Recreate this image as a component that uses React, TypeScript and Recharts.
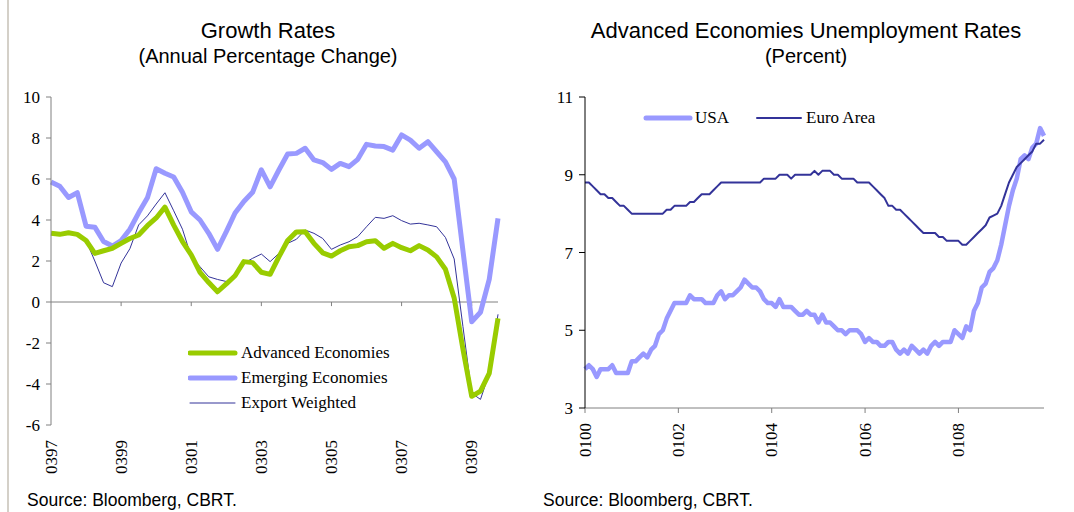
import React from 'react';
import { LineChart, Line, XAxis, YAxis, ReferenceLine, Legend } from 'recharts';

const SERIF = '"Liberation Serif", "Times New Roman", serif';
const SANS = '"Liberation Sans", Arial, sans-serif';

// ---------- Left chart: Growth Rates (quarterly, mmyy) ----------
const growthCategories = [
  '0397', '0697', '0997', '1297', '0398', '0698', '0998', '1298',
  '0399', '0699', '0999', '1299', '0300', '0600', '0900', '1200',
  '0301', '0601', '0901', '1201', '0302', '0602', '0902', '1202',
  '0303', '0603', '0903', '1203', '0304', '0604', '0904', '1204',
  '0305', '0605', '0905', '1205', '0306', '0606', '0906', '1206',
  '0307', '0607', '0907', '1207', '0308', '0608', '0908', '1208',
  '0309', '0609', '0909', '1209',
];
const advancedEconomies = [
  3.35, 3.3, 3.38, 3.3, 3.0, 2.37, 2.5, 2.62,
  2.86, 3.1, 3.27, 3.72, 4.1, 4.63, 3.75, 2.95,
  2.3, 1.45, 0.95, 0.5, 0.88, 1.28, 1.97, 1.92,
  1.45, 1.35, 2.2, 3.0, 3.42, 3.43, 2.86, 2.4,
  2.24, 2.5, 2.7, 2.75, 2.94, 2.99, 2.62, 2.86,
  2.65, 2.5, 2.75, 2.54, 2.2, 1.6, 0.2, -2.3,
  -4.6, -4.35, -3.48, -0.8,
];
const emergingEconomies = [
  5.85, 5.65, 5.1, 5.33, 3.7, 3.65, 2.95, 2.73,
  3.0, 3.55, 4.35, 5.08, 6.5, 6.28, 6.1, 5.35,
  4.4, 4.0, 3.35, 2.57, 3.43, 4.34, 4.9, 5.35,
  6.45, 5.62, 6.44, 7.22, 7.25, 7.5, 6.93, 6.8,
  6.47, 6.76, 6.6, 6.96, 7.69, 7.61, 7.58, 7.41,
  8.15, 7.9, 7.5, 7.82, 7.33, 6.84, 6.0, 2.5,
  -0.96, -0.5, 1.1, 4.08,
];
const exportWeighted = [
  null, null, null, null, 3.0, 2.0, 0.94, 0.75,
  1.9, 2.6, 3.76, 4.2, 4.78, 5.33, 4.45, 3.55,
  2.2, 1.72, 1.23, 1.1, 1.0, 1.4, 1.89, 2.13,
  2.34, 1.97, 2.37, 2.86, 3.06, 3.51, 3.35, 3.1,
  2.57, 2.78, 2.94, 3.19, 3.67, 4.13, 4.08, 4.21,
  3.97, 3.8, 3.84, 3.76, 3.67, 3.15, 2.1, -1.2,
  -4.45, -4.75, -3.48, -0.6,
];
const growthTicks = [-6, -4, -2, 0, 2, 4, 6, 8, 10];
const growthTickCats = ['0399', '0301', '0303', '0305', '0307', '0309'];

// ---------- Right chart: Unemployment (monthly, mmyy) ----------
const monthCodes = ['01', '02', '03', '04', '05', '06', '07', '08', '09', '10', '11', '12'];
const yearCodes = ['00', '01', '02', '03', '04', '05', '06', '07', '08', '09'];
const unempCategories = yearCodes.flatMap((y) => monthCodes.map((m) => m + y)).slice(0, 119);
const usaRate = [
  4.0, 4.1, 4.0, 3.8, 4.0, 4.0, 4.0, 4.1, 3.9, 3.9, 3.9, 3.9,
  4.2, 4.2, 4.3, 4.4, 4.3, 4.5, 4.6, 4.9, 5.0, 5.3, 5.5, 5.7,
  5.7, 5.7, 5.7, 5.9, 5.8, 5.8, 5.8, 5.7, 5.7, 5.7, 5.9, 6.0,
  5.8, 5.9, 5.9, 6.0, 6.1, 6.3, 6.2, 6.1, 6.1, 6.0, 5.8, 5.7,
  5.7, 5.6, 5.8, 5.6, 5.6, 5.6, 5.5, 5.4, 5.4, 5.5, 5.4, 5.4,
  5.2, 5.4, 5.2, 5.2, 5.1, 5.0, 5.0, 4.9, 5.0, 5.0, 5.0, 4.9,
  4.7, 4.8, 4.7, 4.7, 4.6, 4.6, 4.7, 4.7, 4.5, 4.4, 4.5, 4.4,
  4.6, 4.5, 4.4, 4.5, 4.4, 4.6, 4.7, 4.6, 4.7, 4.7, 4.7, 5.0,
  4.9, 4.8, 5.1, 5.0, 5.5, 5.7, 6.1, 6.2, 6.5, 6.6, 6.8, 7.2,
  7.7, 8.2, 8.6, 8.9, 9.4, 9.5, 9.4, 9.7, 9.8, 10.2, 10.0,
];
const euroAreaRate = [
  8.8, 8.8, 8.7, 8.6, 8.5, 8.5, 8.4, 8.4, 8.3, 8.2, 8.2, 8.1,
  8.0, 8.0, 8.0, 8.0, 8.0, 8.0, 8.0, 8.0, 8.0, 8.1, 8.1, 8.2,
  8.2, 8.2, 8.2, 8.3, 8.3, 8.4, 8.5, 8.5, 8.5, 8.6, 8.7, 8.8,
  8.8, 8.8, 8.8, 8.8, 8.8, 8.8, 8.8, 8.8, 8.8, 8.8, 8.9, 8.9,
  8.9, 8.9, 9.0, 9.0, 9.0, 8.9, 9.0, 9.0, 9.0, 9.0, 9.0, 9.1,
  9.0, 9.1, 9.1, 9.1, 9.0, 9.0, 8.9, 8.9, 8.9, 8.9, 8.8, 8.8,
  8.8, 8.8, 8.7, 8.6, 8.5, 8.4, 8.2, 8.2, 8.1, 8.1, 8.0, 7.9,
  7.8, 7.7, 7.6, 7.5, 7.5, 7.5, 7.5, 7.4, 7.4, 7.3, 7.3, 7.3,
  7.3, 7.2, 7.2, 7.3, 7.4, 7.5, 7.6, 7.7, 7.9, 7.95, 8.0, 8.2,
  8.5, 8.8, 9.0, 9.2, 9.3, 9.4, 9.5, 9.6, 9.8, 9.8, 9.9,
];
const unempTicks = [3, 5, 7, 9, 11];

const growthData = growthCategories.map((cat, i) => ({
  cat,
  adv: advancedEconomies[i],
  emg: emergingEconomies[i],
  exp: exportWeighted[i],
}));
const unempData = unempCategories.map((cat, i) => ({
  cat,
  usa: usaRate[i],
  euro: euroAreaRate[i],
}));

const GREEN = '#99cc00';
const LILAC = '#9999ff';
const NAVY = '#333399';

const legendWidths: Record<string, number> = { adv: 5, emg: 5, exp: 1, usa: 5, euro: 2 };

const RotTick = (props: any) => {
  const { x, y, payload } = props;
  return (
    <text
      x={x}
      y={y}
      transform={`rotate(-90 ${x} ${y})`}
      textAnchor="end"
      dominantBaseline="central"
      fontFamily={SERIF}
      fontSize={17}
      fill="#000"
    >
      {payload.value}
    </text>
  );
};

const sortBy = (items: any[], order: string[]) =>
  [...(items || [])].sort((a: any, b: any) => order.indexOf(a.dataKey) - order.indexOf(b.dataKey));

const VerticalLegend = (props: any) => {
  const items = props.payload || [];
  return (
    <div style={{ fontFamily: SERIF, fontSize: 17, color: '#000' }}>
      {items.map((it: any) => (
        <div key={it.dataKey} style={{ display: 'flex', alignItems: 'center', height: 25 }}>
          <svg width={50} height={10} style={{ marginRight: 3 }}>
            <line x1={2} y1={5} x2={47} y2={5} stroke={it.color} strokeWidth={legendWidths[it.dataKey] || 2} strokeLinecap="round" />
          </svg>
          <span style={{ whiteSpace: 'nowrap' }}>{it.value}</span>
        </div>
      ))}
    </div>
  );
};

const HorizontalLegend = (props: any) => {
  const items = props.payload || [];
  return (
    <div style={{ fontFamily: SERIF, fontSize: 17, color: '#000', display: 'flex', alignItems: 'center' }}>
      {items.map((it: any) => (
        <div key={it.dataKey} style={{ display: 'flex', alignItems: 'center', marginRight: 25 }}>
          <svg width={50} height={10} style={{ marginRight: 2 }}>
            <line x1={3} y1={5} x2={47} y2={5} stroke={it.color} strokeWidth={legendWidths[it.dataKey] || 2} strokeLinecap="round" />
          </svg>
          <span style={{ whiteSpace: 'nowrap' }}>{it.value}</span>
        </div>
      ))}
    </div>
  );
};

const titleStyle: React.CSSProperties = {
  position: 'absolute',
  textAlign: 'center',
  fontFamily: SANS,
  color: '#000',
  lineHeight: 1,
  whiteSpace: 'nowrap',
};

export default function App() {
  return (
    <div style={{ position: 'absolute', left: 0, top: 0, width: 1074, height: 512, background: '#fff', overflow: 'hidden' }}>
      <div style={{ position: 'absolute', left: 7, top: 0, width: 2, height: 512, background: '#d4d0c8' }} />

      {/* Left chart titles */}
      <div style={{ ...titleStyle, left: 0, width: 536, top: 20, fontSize: 22 }}>Growth Rates</div>
      <div style={{ ...titleStyle, left: 0, width: 536, top: 46, fontSize: 20 }}>(Annual Percentage Change)</div>

      {/* Right chart titles */}
      <div style={{ ...titleStyle, left: 540, width: 532, top: 20, fontSize: 22 }}>Advanced Economies Unemployment Rates</div>
      <div style={{ ...titleStyle, left: 540, width: 532, top: 46, fontSize: 20 }}>(Percent)</div>

      {/* Left chart */}
      <div style={{ position: 'absolute', left: 0, top: 0 }}>
        <LineChart width={520} height={512} data={growthData} margin={{ top: 97, right: 22, bottom: 37, left: 6 }}>
          <XAxis
            dataKey="cat"
            interval={7}
            axisLine={false}
            tickLine={false}
            tickSize={5}
            tickMargin={10}
            height={50}
            tick={<RotTick />}
          />
          <YAxis
            domain={[-6, 10]}
            ticks={growthTicks}
            width={45}
            axisLine={{ stroke: '#808080', strokeWidth: 1 }}
            tickLine={{ stroke: '#808080' }}
            tickSize={5}
            tickMargin={6}
            tick={{ fontFamily: SERIF, fontSize: 17, fill: '#000' }}
          />
          <ReferenceLine y={0} stroke="#808080" strokeWidth={1} />
          {growthTickCats.map((c) => (
            <ReferenceLine
              key={c}
              segment={[{ x: c, y: 0 }, { x: c, y: -0.2 }]}
              stroke="#808080"
              strokeWidth={1}
              ifOverflow="visible"
            />
          ))}
          <Line dataKey="exp" name="Export Weighted" stroke={NAVY} strokeWidth={1} dot={false} isAnimationActive={false} strokeLinejoin="round" />
          <Line dataKey="emg" name="Emerging Economies" stroke={LILAC} strokeWidth={5} dot={false} isAnimationActive={false} strokeLinejoin="round" />
          <Line dataKey="adv" name="Advanced Economies" stroke={GREEN} strokeWidth={5} dot={false} isAnimationActive={false} strokeLinejoin="round" />
          <Legend
            layout="vertical"
            align="center"
            verticalAlign="middle"
            content={(p: any) => <VerticalLegend payload={sortBy(p.payload, ['adv', 'emg', 'exp'])} />}
            wrapperStyle={{ left: 188, top: 340, width: 230 }}
          />
        </LineChart>
      </div>

      {/* Right chart */}
      <div style={{ position: 'absolute', left: 530, top: 0 }}>
        <LineChart width={530} height={512} data={unempData} margin={{ top: 97, right: 16, bottom: 54, left: 10 }}>
          <XAxis
            dataKey="cat"
            interval={23}
            axisLine={{ stroke: '#808080', strokeWidth: 1 }}
            tickLine={{ stroke: '#808080' }}
            tickSize={5}
            tickMargin={10}
            height={50}
            tick={<RotTick />}
          />
          <YAxis
            domain={[3, 11]}
            ticks={unempTicks}
            width={45}
            axisLine={{ stroke: '#000', strokeWidth: 1 }}
            tickLine={{ stroke: '#000' }}
            tickSize={6}
            tickMargin={6}
            tick={{ fontFamily: SERIF, fontSize: 17, fill: '#000' }}
          />
          <Line dataKey="usa" name="USA" stroke={LILAC} strokeWidth={4.5} dot={false} isAnimationActive={false} strokeLinejoin="round" />
          <Line dataKey="euro" name="Euro Area" stroke={NAVY} strokeWidth={2} dot={false} isAnimationActive={false} strokeLinejoin="round" />
          <Legend
            layout="vertical"
            align="center"
            verticalAlign="middle"
            content={(p: any) => <HorizontalLegend payload={sortBy(p.payload, ['usa', 'euro'])} />}
            wrapperStyle={{ left: 113, top: 108, width: 320 }}
          />
        </LineChart>
      </div>

      {/* Sources */}
      <div style={{ position: 'absolute', left: 27, top: 492, fontFamily: SANS, fontSize: 17.5, lineHeight: 1, color: '#000', whiteSpace: 'nowrap' }}>
        Source: Bloomberg, CBRT.
      </div>
      <div style={{ position: 'absolute', left: 543, top: 492, fontFamily: SANS, fontSize: 17.5, lineHeight: 1, color: '#000', whiteSpace: 'nowrap' }}>
        Source: Bloomberg, CBRT.
      </div>
    </div>
  );
}
